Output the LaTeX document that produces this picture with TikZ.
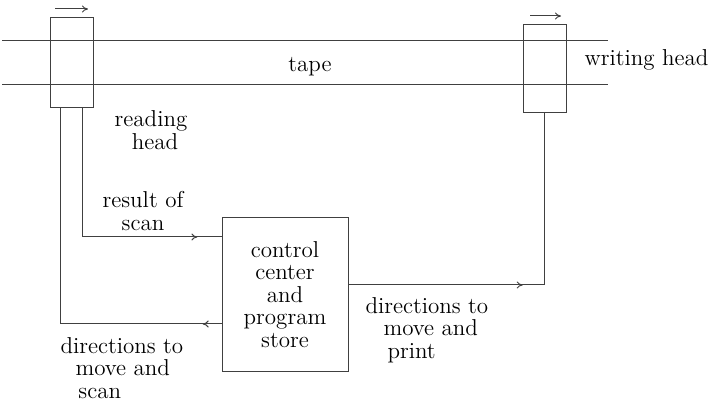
\documentclass[tikz,border=0pt]{standalone}
\usetikzlibrary{arrows.meta, positioning, calc, decorations.markings}
\tikzset{
  headbox/.style={rectangle, draw, minimum width=21.5pt, inner sep=0pt},
  ctrlbox/.style={rectangle, draw, minimum width=63pt, minimum height=76.5pt,
                  align=center, inner sep=0pt},
  lbl/.style={font=\fontsize{11.5}{11.2}\selectfont, inner sep=0pt, text=black},
  tip/.style={-{To[length=3pt, width=3.5pt]}},
  midarrow/.style={postaction={decorate},
                   decoration={markings, mark=at position #1 with {\arrow{To[length=3pt, width=3.5pt]}}}},
}
\begin{document}
\begin{tikzpicture}[x=0.5pt, y=-0.5pt, line width=0.5pt, black!75]
  \useasboundingbox (0,0) rectangle (711,400);

  % Tape
  \coordinate (tl1) at (2,41);  \coordinate (tr1) at (608,41);
  \coordinate (tl2) at (2,85);  \coordinate (tr2) at (608,85);
  \draw (tl1) -- (tr1);
  \draw (tl2) -- (tr2);
  \node[lbl] (tape) at (310,67) {tape};

  % Heads
  \node[headbox, minimum height=45pt] (rhead) at (71.5,63) {};
  \node[headbox, minimum height=44pt] (whead) at (544.5,69) {};
  \coordinate (ra1) at (55,9);   \coordinate (ra2) at (88,9);
  \coordinate (wa1) at (530,16); \coordinate (wa2) at (561,16);
  \draw[tip] (ra1) -- (ra2);
  \draw[tip] (wa1) -- (wa2);
  \node[lbl, align=center] (rlabel) at (151,130) {reading\\\hspace*{4pt}head};
  \node[lbl, anchor=west] (wlabel) at (584,60) {writing head};

  % Control center
  \node[ctrlbox, lbl] (ctrl) at (285,294.5) {control\\center\\and\\program\\store};

  % Connections
  \coordinate (rs) at ($(rhead.south)+(10.5,0)$);
  \coordinate (rd) at ($(rhead.south)+(-11.5,0)$);
  \draw[midarrow=0.91] (rs) |- ([yshift=28.75pt]ctrl.west);
  \draw[midarrow=0.05] ([yshift=-14.75pt]ctrl.west) -| (rd);
  \draw[midarrow=0.474] ([yshift=4.75pt]ctrl.east) -| (whead.south);

  % Labels
  \node[lbl, align=center] (rscan) at (143,211) {result of\\scan};
  \node[lbl, align=left, anchor=north west] (dprint) at (365,297)
    {directions to\\\hspace*{9pt}move and\\\hspace*{11pt}print};
  \node[lbl, align=left, anchor=north west] (dscan) at (60,337)
    {directions to\\\hspace*{7.5pt}move and\\\hspace*{9pt}scan};
\end{tikzpicture}
\end{document}
